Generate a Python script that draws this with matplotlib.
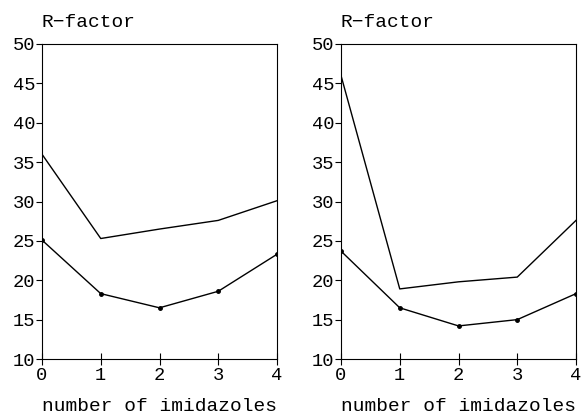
import matplotlib
matplotlib.use("Agg")
import matplotlib.pyplot as plt

x = [0, 1, 2, 3, 4]
left_upper = [36.0, 25.3, 26.5, 27.6, 30.1]
left_lower = [25.1, 18.3, 16.5, 18.6, 23.3]
right_upper = [46.0, 18.9, 19.8, 20.4, 27.6]
right_lower = [23.7, 16.5, 14.2, 15.0, 18.3]
yticks = [10, 15, 20, 25, 30, 35, 40, 45, 50]
ylabel = "R\u2212factor"
xlabel = "number of imidazoles"

plt.rcParams['font.family'] = ['Liberation Mono', 'DejaVu Sans Mono']

fig = plt.figure(figsize=(5.82, 4.2), dpi=100)
W, H = 582, 420
panels = [(42, left_upper, left_lower), (341, right_upper, right_lower)]
for x0, up, lo in panels:
    ax = fig.add_axes([x0 / W, 1 - 359 / H, 235 / W, 315 / H])
    ax.plot(x, up, color='black', lw=1.0)
    ax.plot(x, lo, color='black', lw=1.0, marker='o', ms=2.5)
    ax.set_xlim(0, 4)
    ax.set_ylim(10, 50)
    ax.set_xticks(x)
    ax.set_yticks(yticks)
    ax.tick_params(axis='x', direction='inout', length=8, width=0.8, labelsize=13.5, pad=2)
    ax.tick_params(axis='y', direction='out', length=4, width=0.8, labelsize=13.5, pad=1)
    for s in ax.spines.values():
        s.set_linewidth(0.8)
    ax.set_xlabel(xlabel, fontsize=14, labelpad=10)
    ax.text(0.0, 1.04, ylabel, transform=ax.transAxes, fontsize=14, ha='left', va='bottom')

fig.savefig("out.png", dpi=100)
